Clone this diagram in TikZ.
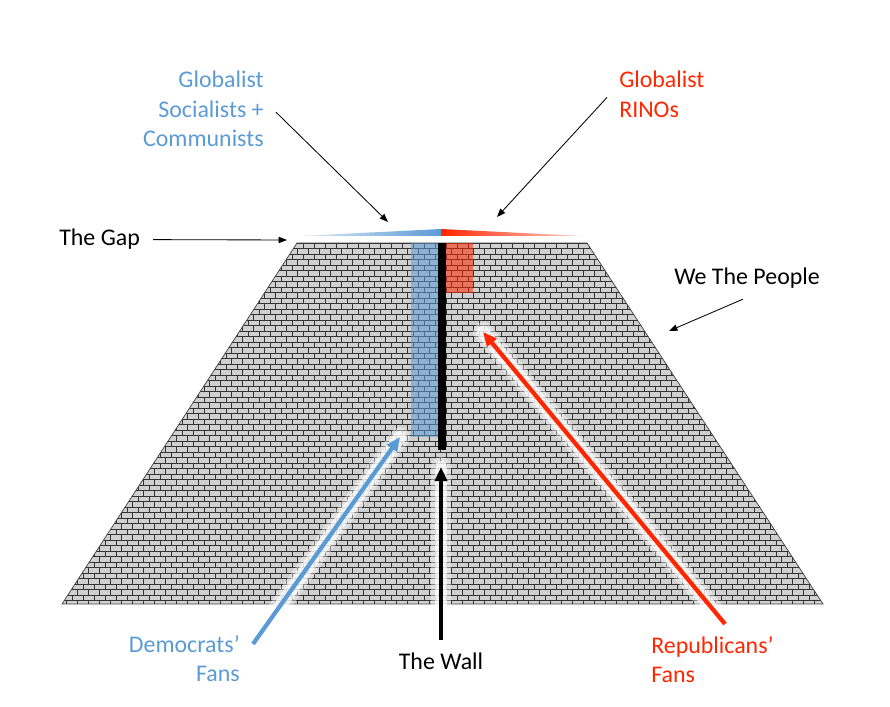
\documentclass[tikz,border=0pt]{standalone}
\usepackage{fontspec}
\setmainfont{Carlito}
\usetikzlibrary{arrows.meta}
\definecolor{demblue}{RGB}{91,155,213}
\definecolor{repred}{RGB}{255,38,0}
\definecolor{brickgray}{RGB}{208,208,208}

\begin{document}
\begin{tikzpicture}[x=0.025cm,y=-0.025cm,>=stealth]
\tikzset{
  lab/.style={font=\fontsize{17}{21}\selectfont,inner sep=0pt},
  arr/.style={-{Triangle[length=6pt,width=4.5pt]},draw=black,line width=.6pt},
  fan/.style={line width=3pt,-{Triangle[length=10pt,width=8.5pt]},
    preaction={draw=white,line width=14pt,opacity=.4,line cap=round,-},
    preaction={draw=white,line width=9pt,opacity=.7,line cap=round,-}},
  mortar/.style={draw=black!80,line width=.5pt}
}
\useasboundingbox (0,0) rectangle (890,707);

% the wall of bricks
\begin{scope}
  \clip (297,243) -- (587,243) -- (823,604) -- (62,604) -- cycle;
  \fill[brickgray] (50,243) rectangle (840,604);
  \foreach \r in {0,...,65} {
    \pgfmathsetmacro\yy{243+\r*5.5}
    \pgfmathsetmacro\xo{mod(\r,2)*5.5}
    \draw[mortar] (50,\yy) -- (840,\yy)
      \foreach \c in {0,...,71} { ({50+\xo+\c*11},\yy) -- ++(0,5.5) };
  }
\end{scope}
\draw[black!75,line width=.5pt] (297,243) -- (587,243) -- (823,604) -- (62,604) -- cycle;

% columns and the wall
\fill[demblue,opacity=.55] (411,243) rectangle (438,437);
\fill[repred,opacity=.55] (446,243) rectangle (473,293);
\fill[black] (438,243) rectangle (446,450);

% the gap
\shade[left color=demblue!20,right color=demblue] (300,236) -- (441,229) -- (441,236) -- cycle;
\shade[left color=repred,right color=repred!20] (441,229) -- (583,236) -- (441,236) -- cycle;

% labels
\node[lab,demblue,anchor=north east,align=right] (glob) at (264,71) {Globalist\\Socialists +\\Communists};
\node[lab,repred,anchor=north west,align=left] (rinos) at (619,71) {Globalist\\RINOs};
\node[lab,anchor=base west] (gap) at (59,246) {The Gap};
\node[lab,anchor=base west] (people) at (674,285) {We The People};
\node[lab,anchor=base] (wall) at (441,670) {The Wall};
\node[lab,demblue,anchor=north east,align=right] (dem) at (240,635) {Democrats’\\Fans};
\node[lab,repred,anchor=north west,align=left] (rep) at (651,636) {Republicans’\\Fans};

\coordinate (gaptip) at (287,240);
\coordinate (globtip) at (388,222);
\coordinate (rinostip) at (497,217);
\coordinate (peopletip) at (669,331);
\coordinate (walltip) at (441,467);
\coordinate (demtip) at (400,437);
\coordinate (reptip) at (483,332);

\draw[arr] ([shift={(13,0)}]gap.east) -- (gaptip);
\draw[arr] ([shift={(12,3)}]glob.east) -- (globtip);
\draw[arr] ([shift={(-12,3)}]rinos.west) -- (rinostip);
\draw[arr] ([shift={(-4,10)}]people.south) -- (peopletip);
\draw[fan,black] ([shift={(0,-13)}]wall.north) -- (walltip);
\draw[fan,demblue] ([shift={(13,9)}]dem.north east) -- (demtip);
\draw[fan,repred] ([shift={(74,-12)}]rep.north west) -- (reptip);
\end{tikzpicture}
\end{document}
